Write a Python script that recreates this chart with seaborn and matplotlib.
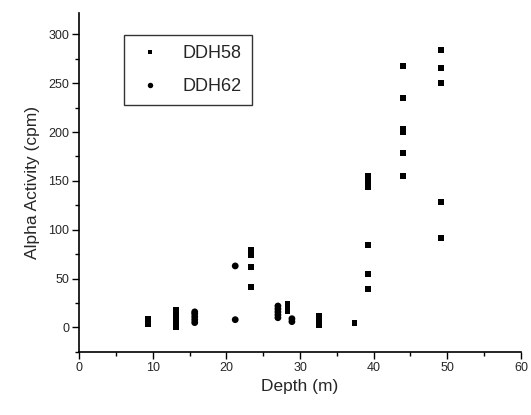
import matplotlib
matplotlib.use("Agg")
import matplotlib.pyplot as plt
import seaborn as sns
import pandas as pd
from matplotlib.ticker import MultipleLocator

# DDH58 data (depth m, alpha activity cpm)
ddh58_depth = [9.3, 9.3, 9.3,
               13.2, 13.2, 13.2, 13.2, 13.2, 13.2, 13.2,
               23.4, 23.4, 23.4, 23.4,
               28.3, 28.3, 28.3,
               32.6, 32.6, 32.6, 32.6,
               37.4,
               39.2, 39.2, 39.2, 39.2, 39.2, 39.2,
               44.0, 44.0, 44.0, 44.0, 44.0, 44.0,
               49.2, 49.2, 49.2, 49.1, 49.1]
ddh58_alpha = [4, 6, 9,
               0, 3, 6, 9, 12, 15, 18,
               41, 62, 74, 79,
               17, 21, 24,
               3, 6, 9, 12,
               5,
               39, 55, 84, 144, 150, 155,
               155, 179, 200, 203, 235, 268,
               250, 266, 284, 128, 92]

# DDH62 data
ddh62_depth = [15.7, 15.7, 15.7, 15.7, 15.7,
               21.2, 21.2,
               27.0, 27.0, 27.0, 27.0, 27.0,
               28.9, 28.9]
ddh62_alpha = [5, 8, 11, 14, 16,
               8, 63,
               10, 13, 16, 19, 22,
               6, 9]

df = pd.DataFrame({
    "Depth": ddh58_depth + ddh62_depth,
    "Alpha": ddh58_alpha + ddh62_alpha,
    "Hole": ["DDH58"] * len(ddh58_depth) + ["DDH62"] * len(ddh62_depth),
})

sns.set_style("ticks")
plt.rcParams["font.family"] = ["Liberation Sans", "DejaVu Sans"]

fig = plt.figure(figsize=(5.31, 4.15), dpi=100)
ax = fig.add_axes([0.149, 0.152, 0.832, 0.817])

sns.scatterplot(data=df, x="Depth", y="Alpha", hue="Hole", style="Hole",
                size="Hole", sizes={"DDH58": 18, "DDH62": 24},
                palette={"DDH58": "black", "DDH62": "black"},
                markers={"DDH58": "s", "DDH62": "o"},
                linewidth=0, ax=ax)

ax.set_xlim(0, 60)
ax.set_ylim(-25, 322)
ax.xaxis.set_major_locator(MultipleLocator(10))
ax.xaxis.set_minor_locator(MultipleLocator(5))
ax.yaxis.set_major_locator(MultipleLocator(50))
ax.yaxis.set_minor_locator(MultipleLocator(25))
ax.tick_params(which="major", direction="out", length=5, width=1, labelsize=9, pad=2, color="black")
ax.tick_params(which="minor", direction="out", length=3, width=1, color="black")
for side in ["top", "right"]:
    ax.spines[side].set_visible(False)
for side in ["left", "bottom"]:
    ax.spines[side].set_color("black")
    ax.spines[side].set_linewidth(1.2)

ax.set_xlabel("Depth (m)", fontsize=12.5, labelpad=4)
ax.set_ylabel("Alpha Activity (cpm)", fontsize=12.5, labelpad=6)

leg = ax.legend(loc="upper left", bbox_to_anchor=(0.102, 0.935), borderaxespad=0,
                fontsize=13, frameon=True, fancybox=False, edgecolor="black",
                markerscale=0.8, handlelength=1.8, handletextpad=0.9,
                labelspacing=0.9, borderpad=0.55, title=None)
leg.get_frame().set_linewidth(1.0)

fig.savefig("out.png", dpi=100)
